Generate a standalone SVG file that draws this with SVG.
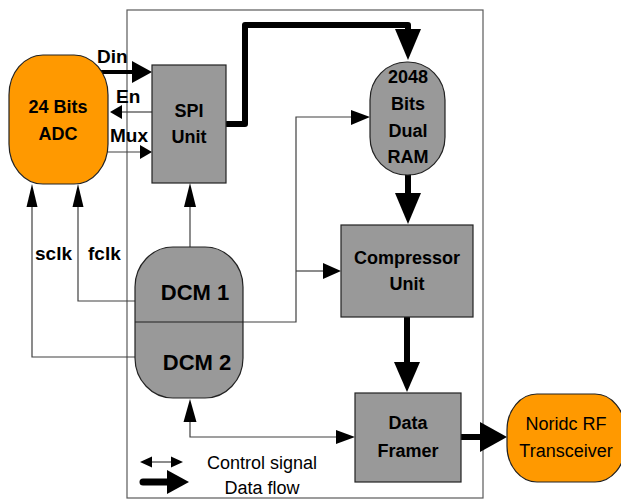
<svg xmlns="http://www.w3.org/2000/svg" width="621" height="500" viewBox="0 0 621 500">
<style>
.frame{fill:none;stroke:#5a5a5a;stroke-width:1.2}
.ora{fill:#FF9900;stroke:#222;stroke-width:1.2}
.gry{fill:#999999;stroke:#222;stroke-width:1.2}
.t{font-family:"Liberation Sans",Arial,sans-serif;font-weight:bold;font-size:18px;fill:#000;text-anchor:middle}
.tr{font-family:"Liberation Sans",Arial,sans-serif;font-size:18px;fill:#000;text-anchor:middle}
.lb{font-family:"Liberation Sans",Arial,sans-serif;font-weight:bold;font-size:19px;fill:#000}
.thin{fill:none;stroke:#404040;stroke-width:1.2}
.thick{fill:none;stroke:#000;stroke-width:6;stroke-linecap:round;stroke-linejoin:round}
.hd{fill:#000}
</style>
<rect class="frame" x="127" y="10" width="356" height="488"/>
<g id="connectors">
  <!-- Din -->
  <line x1="100" y1="72" x2="134" y2="72" stroke="#000" stroke-width="4"/>
  <polygon class="hd" points="132,61 152,72 132,83"/>
  <!-- En -->
  <line class="thin" x1="152" y1="112" x2="121" y2="112"/>
  <polygon class="hd" points="110,112 122,105 122,119"/>
  <!-- Mux -->
  <line class="thin" x1="108" y1="152" x2="141" y2="152"/>
  <polygon class="hd" points="152,152 140,145 140,159"/>
  <!-- SPI to RAM thick -->
  <polyline class="thick" points="227,124 245,124 245,25 408,25 408,32"/>
  <polygon class="hd" points="395,29 421,29 408,60"/>
  <!-- RAM to Compressor -->
  <line class="thick" x1="408" y1="175" x2="408" y2="196"/>
  <polygon class="hd" points="395,193 421,193 408,224"/>
  <!-- Compressor to Framer -->
  <line class="thick" x1="407" y1="317" x2="407" y2="364"/>
  <polygon class="hd" points="394,362 420,362 407,392"/>
  <!-- Framer to Nordic -->
  <line class="thick" x1="461" y1="437" x2="482" y2="437"/>
  <polygon class="hd" points="480,422 507,437 480,452"/>
  <!-- DCM to SPI -->
  <line class="thin" x1="190" y1="247" x2="190" y2="205"/>
  <polygon class="hd" points="190,183 184,207 196,207"/>
  <!-- sclk -->
  <polyline class="thin" points="135,357 32,357 32,205"/>
  <polygon class="hd" points="32,184 26.5,207 37.5,207"/>
  <!-- fclk -->
  <polyline class="thin" points="135,301 78,301 78,205"/>
  <polygon class="hd" points="78,184 72.5,207 83.5,207"/>
  <!-- DCM1 to RAM and Compressor -->
  <polyline class="thin" points="243,322 296,322 296,117 352,117"/>
  <polygon class="hd" points="370,117 351,110 351,125"/>
  <line class="thin" x1="296" y1="271" x2="324" y2="271"/>
  <polygon class="hd" points="341,271 323,263 323,279"/>
  <!-- DCM2 to Framer -->
  <polyline class="thin" points="190,420 190,437 337,437"/>
  <polygon class="hd" points="190,399 183.5,422 196.5,422"/>
  <polygon class="hd" points="355,437 336,430 336,444"/>
</g>
<g id="adc">
  <rect class="ora" x="9" y="55" width="99" height="129" rx="34" ry="40"/>
  <text class="t" x="58" y="113">24 Bits</text>
  <text class="t" x="58" y="140">ADC</text>
</g>
<g id="spi">
  <rect class="gry" x="152" y="65" width="74" height="118"/>
  <text class="t" x="189" y="117">SPI</text>
  <text class="t" x="189" y="143">Unit</text>
</g>
<g id="ram">
  <rect class="gry" x="370" y="62" width="75" height="113" rx="37" ry="38"/>
  <text class="t" x="408" y="83">2048</text>
  <text class="t" x="408" y="110">Bits</text>
  <text class="t" x="408" y="137">Dual</text>
  <text class="t" x="408" y="163">RAM</text>
</g>
<g id="compressor">
  <rect class="gry" x="341" y="225" width="132" height="92"/>
  <text class="t" x="407" y="264">Compressor</text>
  <text class="t" x="407" y="290">Unit</text>
</g>
<g id="framer">
  <rect class="gry" x="355" y="393" width="106" height="89"/>
  <text class="t" x="408" y="429">Data</text>
  <text class="t" x="408" y="457">Framer</text>
</g>
<g id="nordic">
  <rect class="ora" x="507" y="394" width="118" height="88" rx="30" ry="36"/>
  <text class="tr" x="566" y="430">Noridc RF</text>
  <text class="tr" x="566" y="457">Transceiver</text>
</g>
<g id="dcm">
  <rect class="gry" x="135" y="247" width="108" height="151" rx="38" ry="40"/>
  <line x1="135" y1="322" x2="243" y2="322" stroke="#222" stroke-width="1.2"/>
  <text class="t" x="195" y="300" style="font-size:22px">DCM 1</text>
  <text class="t" x="197" y="370" style="font-size:22px">DCM 2</text>
</g>
<g id="labels">
  <text class="lb" x="97" y="63">Din</text>
  <text class="lb" x="116" y="103">En</text>
  <text class="lb" x="110" y="142">Mux</text>
  <text class="lb" x="35" y="260">sclk</text>
  <text class="lb" x="88" y="260">fclk</text>
</g>
<g id="legend">
  <line class="thin" x1="150" y1="462" x2="173" y2="462"/>
  <polygon class="hd" points="140,462 152,456.5 152,467.5"/>
  <polygon class="hd" points="183,462 171,456.5 171,467.5"/>
  <line x1="143" y1="482" x2="169" y2="482" stroke="#000" stroke-width="7" stroke-linecap="round"/>
  <polygon class="hd" points="167,470 189,482 167,494"/>
  <text class="tr" x="262" y="469">Control signal</text>
  <text class="tr" x="262" y="494">Data flow</text>
</g>
</svg>
